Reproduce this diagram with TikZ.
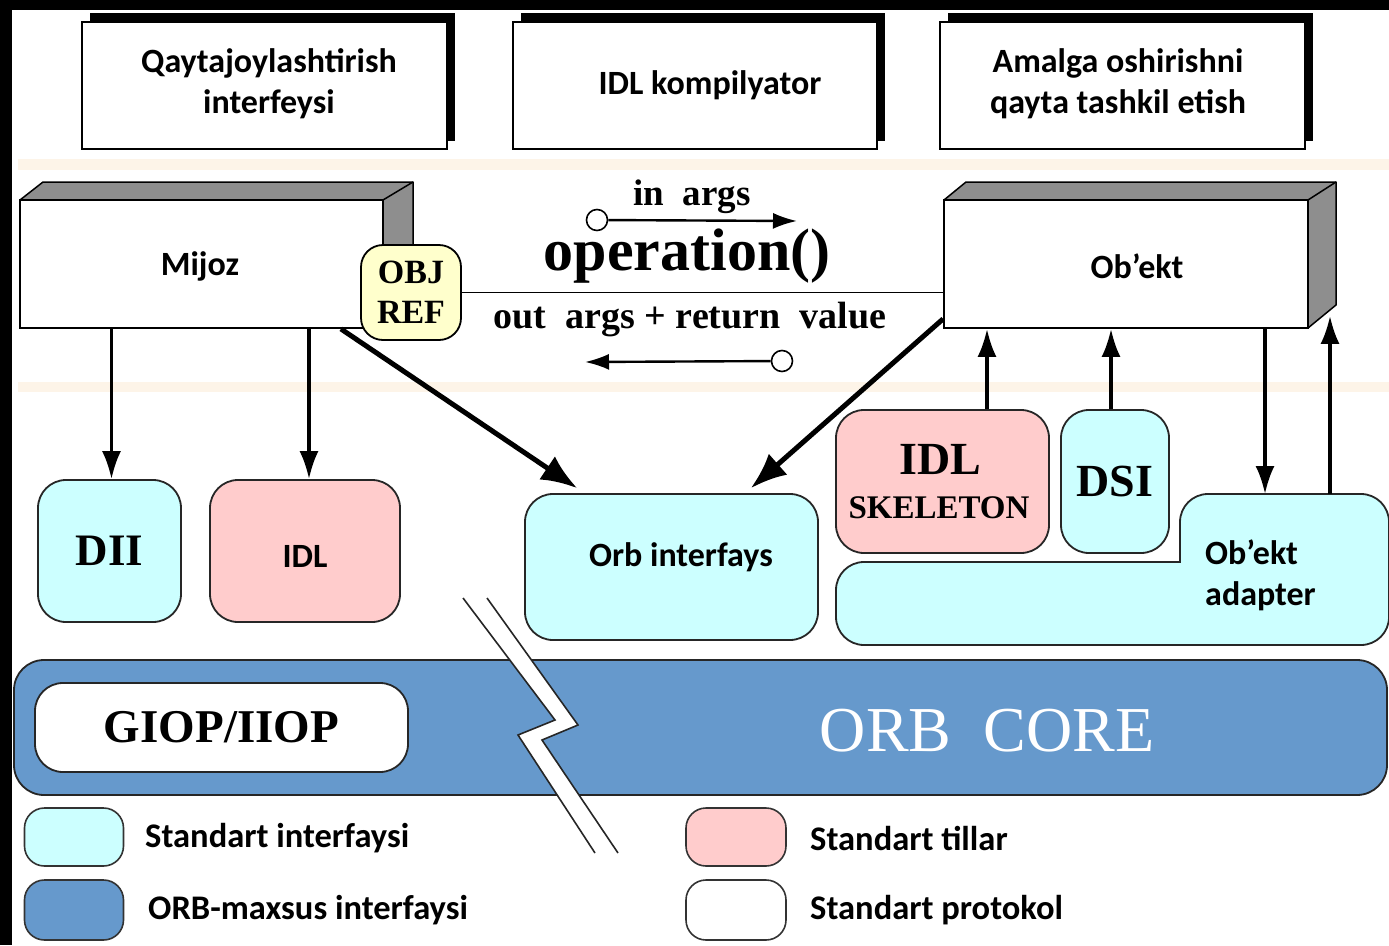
\documentclass[tikz,border=0pt]{standalone}
\usepackage{fontspec}
\setmainfont{Carlito}
\newfontfamily\seriffont{Liberation Serif}
\usetikzlibrary{calc,arrows.meta}
\definecolor{cyanbox}{HTML}{CCFFFF}
\definecolor{pinkbox}{HTML}{FFCCCC}
\definecolor{yelbox}{HTML}{FFFFCC}
\definecolor{orbblue}{HTML}{6699CC}
\definecolor{bandc}{HTML}{FDF4E8}
\definecolor{facegray}{HTML}{8E8E8E}
\newcommand{\myserif}[1]{\seriffont\bfseries\fontsize{#1}{#1}\selectfont}
\newcommand{\mycal}{\bfseries\fontsize{34}{41}\selectfont}
\newcommand{\mycalleg}{\bfseries\fontsize{34.5}{41}\selectfont}
\begin{document}
\begin{tikzpicture}[x=1pt,y=-1pt,
  cal/.style={font=\mycal, align=center, inner sep=0},
  topbox/.style={draw, fill=white, line width=1.8pt, minimum height=127pt, inner sep=0, font=\mycal, align=center},
  frontbox/.style={draw, fill=white, line width=1.8pt, minimum width=364pt, minimum height=128pt, inner sep=0},
  face/.style={draw, fill=facegray, line width=1.5pt, line join=round},
  rbox/.style={draw=black!85, line width=1.8pt, rounded corners=28pt, inner sep=0},
  arr/.style={line width=3.2pt, -{Latex[length=28pt,width=19pt]}},
  tarr/.style={line width=5pt, -{Latex[length=36pt,width=28pt]}},
  sarr/.style={line width=2.4pt, -{Latex[length=24pt,width=16pt]}},
  ring/.style={circle, draw, fill=white, line width=1.6pt, minimum size=21pt, inner sep=0},
  legbox/.style={draw=black!80, line width=1.6pt, rounded corners=20pt, minimum width=99pt, minimum height=58pt, inner sep=0},
  legtxt/.style={anchor=west, inner sep=0, font=\mycalleg},
  brk/.style={draw=black!85, line width=1.6pt, line join=miter},
]
\useasboundingbox (0,0) rectangle (1389,945);
% background
\fill[white] (0,0) rectangle (1389,945);
\fill[black] (0,0) rectangle (1389,10);
\fill[black] (0,0) rectangle (12,945);
\fill[bandc] (18,159) rectangle (1389,170);
\fill[bandc] (18,382) rectangle (1389,392);

% top boxes
\fill (90,13) rectangle (455,141);
\node[topbox, minimum width=365pt] (reloc) at (264.5,85.5) {};
\node[cal] (relocl) at (269,84) {Qaytajoylashtirish\\interfeysi};
\fill (521,13) rectangle (885,141);
\node[topbox, minimum width=364pt] (idlc) at (695,85.5) {};
\node[cal] (idlcl) at (710,85) {IDL kompilyator};
\fill (948,13) rectangle (1313,141);
\node[topbox, minimum width=365pt] (impl) at (1122.5,85.5) {};
\node[cal] (impll) at (1118,84) {Amalga oshirishni\\qayta tashkil etish};

% Mijoz (3D box)
\filldraw[face] (20,200) -- (43,182) -- (413,182) -- (413,300) -- (383,328) -- cycle;
\node[frontbox, minimum width=363pt] (mijoz) at (201.5,264) {};
\node[cal] (mijozl) at (200,266) {Mijoz};
\draw[line width=1.5pt] (383,200) -- (413,182);

% Ob'ekt (3D box)
\filldraw[face] (944,200) -- (966,182) -- (1336,182) -- (1336,305) -- (1308,328) -- cycle;
\node[frontbox] (obj) at (1126,264) {};
\node[cal] (objl) at (1137,266) {Ob’ekt};
\draw[line width=1.5pt] (1308,200) -- (1336,182);

% lower boxes
\node[rbox, fill=cyanbox, minimum width=143pt, minimum height=142pt, font=\myserif{45}] (dii) at (109.5,551) {DII};
\node[rbox, fill=pinkbox, minimum width=190pt, minimum height=142pt] (idl) at (305,551) {};
\node[cal] (idll) at (305,556) {IDL};
\node[rbox, fill=cyanbox, minimum width=293pt, minimum height=146pt] (orb) at (671.5,567) {};
\node[cal] (orbl) at (681,557) {Orb interfays};
\node[rbox, fill=pinkbox, minimum width=213pt, minimum height=143pt] (skel) at (942.5,481.5) {};
\node[inner sep=0, font=\myserif{46}] (skl1) at (940,459) {IDL};
\node[inner sep=0, font=\myserif{33}] (skl2) at (939,508) {SKELETON};
\node[rbox, fill=cyanbox, minimum width=108pt, minimum height=143pt, font=\myserif{46}] (dsi) at (1115,481.5) {DSI};

% object adapter (L shape)
\filldraw[fill=cyanbox, draw=black!85, line width=1.8pt]
  (1180,562) -- (1180,522) arc[start angle=180, end angle=270, radius=28]
  -- (1361,494) arc[start angle=270, end angle=360, radius=28]
  -- (1389,617) arc[start angle=0, end angle=90, radius=28]
  -- (864,645) arc[start angle=90, end angle=180, radius=28]
  -- (836,590) arc[start angle=180, end angle=270, radius=28]
  -- cycle;
\node[cal, anchor=west, align=left] (adl) at (1205,575) {Ob’ekt\\adapter};
\coordinate (ad1) at (1265,494);
\coordinate (ad2) at (1330,494);

% arrows
\draw[arr] (mijoz.south -| dii.north) ++(2,0) -- ($(dii.north)+(2,0)$);
\draw[arr] ($(mijoz.south -| idl.north)+(4,0)$) -- ($(idl.north)+(4,0)$);
\draw[tarr] ($(mijoz.south east)+(-43,0)$) -- ($(orb.north west)+(53,-5)$);
\draw[tarr] ($(obj.south west)+(0,-10)$) -- ($(orb.north east)+(-68,-5)$);
\draw[arr] ($(skel.north)+(44.5,0)$) -- ($(obj.south)+(-139,0)$);
\draw[arr] ($(dsi.north)+(-4,0)$) -- ($(obj.south)+(-15,0)$);
\draw[arr] (obj.south -| ad1) -- (ad1);
\draw[arr] (ad2) -- ($(ad2 |- obj.south)+(0,-13)$);

% OBJ REF and invocation line
\node[draw, line width=1.8pt, fill=yelbox, rounded corners=22pt, minimum width=100pt, minimum height=95pt, inner sep=0, align=center, font=\myserif{34}] (objref) at (411,292.5) {OBJ\\[6pt]REF};
\draw[line width=1.8pt] (objref.east) -- (objref.east -| obj.west);

% operation labels
\node[inner sep=0, font=\myserif{37}] (inargs) at (692,197) {in\ \ args};
\node[ring] (c1) at (597,220) {};
\coordinate (t1) at (797,221);
\draw[sarr] (c1) -- (t1);
\node[inner sep=0, font=\myserif{60}] (op) at (687,256) {operation()};
\node[inner sep=0, font=\myserif{38}] (outargs) at (690,320) {out\ \ args + return\ \ value};
\node[ring] (c2) at (782,361) {};
\coordinate (t2) at (585,362);
\draw[sarr] (c2) -- (t2);

% ORB core
\node[draw=black!85, line width=1.8pt, fill=orbblue, rounded corners=30pt, minimum width=1373pt, minimum height=135pt, inner sep=0] (core) at (700.5,727.5) {};
\node[rbox, fill=white, minimum width=373pt, minimum height=89pt, font=\myserif{47}] (giop) at (221.5,727.5) {GIOP/IIOP};
\node[inner sep=0, text=white, font=\seriffont\fontsize{64}{64}\selectfont] (corel) at (987,731) {ORB\hspace{0.5em}CORE};

% break mark
\fill[white] (463,598) -- (555,720) -- (518,735) -- (595,853) -- (618,853) -- (542,740) -- (578,725) -- (487,598) -- cycle;
\draw[brk] (463,598) -- (555,720) -- (518,735) -- (595,853);
\draw[brk] (487,598) -- (578,725) -- (542,740) -- (618,853);

% legend
\node[legbox, fill=cyanbox] (leg1) at (74,837) {};
\node[legtxt] (leg1t) at (145,838) {Standart interfaysi};
\node[legbox, fill=orbblue, minimum height=60pt] (leg2) at (74,910) {};
\node[legtxt] (leg2t) at (148,910) {ORB-maxsus interfaysi};
\node[legbox, fill=pinkbox, minimum width=100pt] (leg3) at (736,837) {};
\node[legtxt] (leg3t) at (810,838) {Standart tillar};
\node[legbox, fill=white, minimum width=100pt, minimum height=60pt] (leg4) at (736,910) {};
\node[legtxt] (leg4t) at (810,910) {Standart protokol};
\end{tikzpicture}
\end{document}
